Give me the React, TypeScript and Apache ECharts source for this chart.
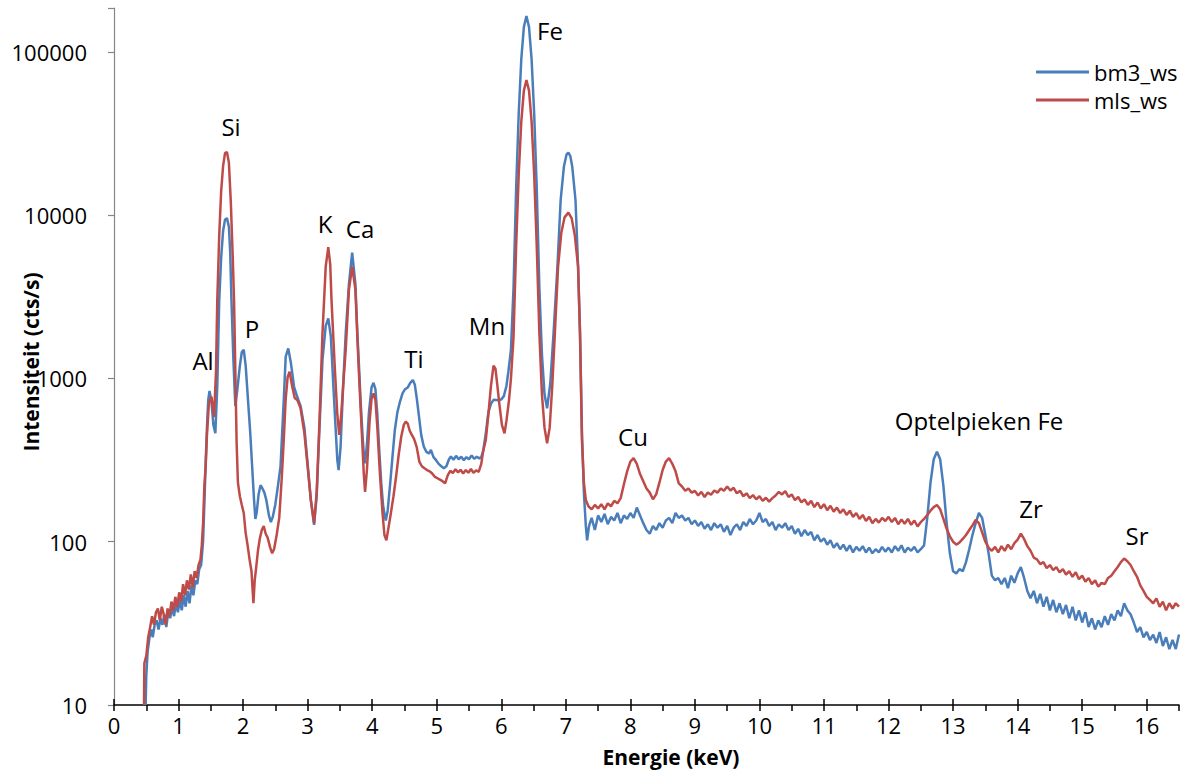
import React, { useEffect, useRef } from "react";
import * as echarts from "echarts";

const FONT = "'Open Sans', 'Noto Sans', sans-serif";

const seriesNames = ["bm3_ws", "mls_ws"];
const seriesColors = ["#4A7EBB", "#BE4B48"];

const xMajorTicks = [0, 1, 2, 3, 4, 5, 6, 7, 8, 9, 10, 11, 12, 13, 14, 15, 16];

// [energy keV, intensity cts/s]
const bm3Ws: number[][] = [
  [0.49,10],[0.50,15],[0.52,21],[0.55,26],[0.58,29],[0.60,26],[0.63,31],[0.66,33],[0.69,29],[0.72,34],[0.75,31],[0.78,36],[0.81,30],[0.84,37],[0.87,34],[0.90,40],[0.93,35],[0.96,42],[0.99,37],[1.02,44],[1.05,38],[1.08,47],[1.11,40],[1.14,50],[1.17,42],[1.20,54],[1.23,47],[1.26,58],[1.29,55],[1.32,68],[1.35,72],[1.38,100],[1.40,170],[1.42,300],[1.44,500],[1.46,740],[1.48,838],[1.51,720],[1.54,520],[1.57,463],[1.60,900],[1.63,3000],[1.66,5500],[1.69,8000],[1.72,9400],[1.75,9600],[1.78,8500],[1.80,6000],[1.82,3000],[1.85,1300],[1.88,680],[1.91,850],[1.95,1200],[1.98,1450],[2.01,1500],[2.04,1200],[2.08,700],[2.11,470],[2.14,290],[2.17,180],[2.19,138],[2.21,150],[2.24,195],[2.27,222],[2.30,212],[2.33,200],[2.36,180],[2.40,145],[2.43,132],[2.46,142],[2.50,170],[2.54,220],[2.58,289],[2.63,738],[2.66,1360],[2.70,1530],[2.74,1250],[2.79,890],[2.84,770],[2.89,680],[2.95,500],[3.00,300],[3.05,180],[3.10,127],[3.14,190],[3.18,464],[3.23,1300],[3.28,2100],[3.32,2336],[3.36,1800],[3.41,738],[3.46,316],[3.48,275],[3.51,380],[3.55,900],[3.59,1890],[3.64,3800],[3.69,5900],[3.74,3800],[3.77,1890],[3.80,1100],[3.82,738],[3.85,450],[3.87,347],[3.89,302],[3.92,400],[3.95,620],[3.99,880],[4.02,942],[4.05,860],[4.08,600],[4.11,360],[4.14,230],[4.17,165],[4.21,135],[4.24,155],[4.28,230],[4.31,316],[4.35,480],[4.39,620],[4.43,720],[4.47,810],[4.51,860],[4.55,880],[4.59,940],[4.63,978],[4.66,920],[4.69,760],[4.72,610],[4.76,450],[4.80,382],[4.84,355],[4.88,347],[4.91,365],[4.95,330],[4.99,316],[5.03,300],[5.07,290],[5.11,282],[5.15,290],[5.19,320],[5.22,333],[5.26,318],[5.30,336],[5.34,320],[5.38,332],[5.42,316],[5.46,330],[5.50,320],[5.54,338],[5.58,322],[5.62,332],[5.66,324],[5.69,330],[5.72,360],[5.76,460],[5.80,620],[5.84,700],[5.88,740],[5.92,738],[5.96,735],[6.00,745],[6.04,780],[6.08,900],[6.11,1100],[6.15,1500],[6.19,3600],[6.23,14400],[6.27,41700],[6.31,90000],[6.35,142000],[6.39,166000],[6.43,142000],[6.47,90000],[6.51,41700],[6.55,14400],[6.59,3600],[6.63,1400],[6.67,800],[6.71,657],[6.76,935],[6.81,1890],[6.87,4840],[6.92,12400],[6.97,19800],[7.01,23500],[7.04,24200],[7.07,23000],[7.10,19800],[7.15,12400],[7.19,4840],[7.22,1890],[7.25,461],[7.28,200],[7.31,125],[7.33,102],[7.36,125],
  [7.40,140],[7.45,118],[7.50,145],[7.55,132],[7.60,148],[7.65,128],[7.70,142],[7.75,135],[7.80,150],[7.85,130],[7.90,145],[7.95,138],[8.00,150],[8.05,140],[8.10,162],[8.15,145],[8.20,130],[8.25,118],[8.30,112],[8.35,125],[8.40,118],[8.45,130],[8.50,122],[8.55,135],[8.60,140],[8.65,130],[8.70,150],[8.75,140],[8.80,145],[8.85,135],[8.90,140],[8.95,128],[9.00,135],[9.05,125],[9.10,132],[9.15,120],[9.20,128],[9.25,118],[9.30,130],[9.35,122],[9.40,128],[9.45,115],[9.50,125],[9.55,110],[9.60,122],[9.65,128],[9.70,118],[9.75,132],[9.80,125],[9.85,138],[9.90,128],[9.95,135],[10.00,150],[10.05,132],[10.10,138],[10.15,125],[10.20,132],[10.25,118],[10.30,128],[10.35,122],[10.40,130],[10.45,118],[10.50,125],[10.55,112],[10.60,120],[10.65,108],[10.70,118],[10.75,110],[10.80,115],[10.85,102],[10.90,110],[10.95,100],[11.00,105],[11.05,96],[11.10,102],[11.15,92],[11.20,98],[11.25,90],[11.30,96],[11.35,88],[11.40,95],[11.45,86],[11.50,93],[11.55,88],[11.60,94],[11.65,86],[11.70,92],[11.75,85],[11.80,90],[11.85,86],[11.90,93],[11.95,87],[12.00,92],[12.05,86],[12.10,94],[12.15,88],[12.20,95],[12.25,86],[12.30,92],[12.35,88],[12.40,93],[12.45,86],[12.50,90],[12.55,95],[12.60,140],[12.65,230],[12.70,320],[12.75,356],[12.80,320],[12.85,220],[12.90,130],[12.95,85],[13.00,66],[13.05,64],[13.10,68],[13.15,66],[13.20,75],[13.25,90],[13.30,110],[13.35,130],[13.40,150],[13.45,140],[13.50,110],[13.55,85],[13.60,62],[13.65,58],[13.70,60],[13.75,55],[13.80,60],[13.85,52],[13.90,62],[13.95,56],[14.00,64],[14.05,70],[14.10,60],[14.15,50],[14.20,45],[14.25,50],[14.30,42],[14.35,48],[14.40,40],[14.45,46],[14.50,38],[14.55,44],[14.60,37],[14.65,42],[14.70,36],[14.75,41],[14.80,34],[14.85,40],[14.90,33],[14.95,38],[15.00,32],[15.05,37],[15.10,30],[15.15,34],[15.20,29],[15.25,33],[15.30,30],[15.35,35],[15.40,31],[15.45,36],[15.50,33],[15.55,38],[15.60,35],[15.65,42],[15.70,38],[15.75,36],[15.80,32],[15.85,28],[15.90,30],[15.95,26],[16.00,28],[16.05,25],[16.10,27],[16.15,24],[16.20,28],[16.25,23],[16.30,26],[16.35,22],[16.40,25],[16.45,22],[16.50,27]
];

const mlsWs: number[][] = [
  [0.465,10],[0.47,18],[0.50,20],[0.53,26],[0.56,30],[0.59,35],[0.62,31],[0.65,37],[0.68,39],[0.71,33],[0.74,40],[0.77,36],[0.80,31],[0.83,39],[0.86,35],[0.89,43],[0.92,38],[0.95,46],[0.98,40],[1.01,49],[1.04,43],[1.07,55],[1.10,47],[1.13,58],[1.16,51],[1.19,63],[1.22,53],[1.25,66],[1.28,60],[1.31,72],[1.34,78],[1.36,95],[1.38,130],[1.40,220],[1.42,290],[1.44,450],[1.47,700],[1.51,775],[1.55,581],[1.58,1100],[1.60,3000],[1.63,7500],[1.66,14000],[1.69,20000],[1.72,24000],[1.75,24400],[1.78,21000],[1.81,12000],[1.84,5500],[1.86,3000],[1.88,1100],[1.90,400],[1.92,230],[1.95,190],[1.98,168],[2.01,150],[2.04,113],[2.07,95],[2.10,78],[2.13,66],[2.16,42],[2.18,58],[2.20,68],[2.23,88],[2.26,105],[2.29,118],[2.32,125],[2.35,112],[2.38,106],[2.42,92],[2.45,85],[2.48,90],[2.52,110],[2.56,140],[2.60,250],[2.63,420],[2.66,750],[2.69,1020],[2.72,1100],[2.76,900],[2.80,760],[2.84,738],[2.89,660],[2.95,461],[3.00,289],[3.05,180],[3.10,130],[3.14,200],[3.18,500],[3.23,1890],[3.28,4840],[3.32,6370],[3.35,5000],[3.37,3020],[3.42,1180],[3.46,600],[3.49,451],[3.52,600],[3.55,900],[3.59,1500],[3.64,3500],[3.69,4840],[3.74,3500],[3.79,1180],[3.84,461],[3.87,260],[3.89,202],[3.92,280],[3.96,550],[3.99,750],[4.02,810],[4.05,740],[4.08,500],[4.12,260],[4.16,150],[4.19,110],[4.22,102],[4.25,120],[4.29,150],[4.33,190],[4.37,250],[4.41,340],[4.45,440],[4.49,520],[4.52,545],[4.55,530],[4.58,480],[4.61,455],[4.65,425],[4.69,380],[4.73,310],[4.77,290],[4.81,282],[4.85,275],[4.89,270],[4.93,262],[4.97,250],[5.01,245],[5.05,240],[5.09,235],[5.13,228],[5.17,255],[5.21,272],[5.25,264],[5.29,278],[5.33,266],[5.37,276],[5.41,262],[5.45,275],[5.49,265],[5.53,279],[5.57,264],[5.61,274],[5.65,268],[5.69,300],[5.72,360],[5.76,420],[5.80,600],[5.84,900],[5.88,1200],[5.91,1150],[5.94,900],[5.97,700],[6.01,520],[6.05,461],[6.08,550],[6.12,738],[6.15,1000],[6.19,1800],[6.23,6400],[6.27,17700],[6.31,37300],[6.35,58000],[6.39,67300],[6.43,58000],[6.47,37300],[6.51,17700],[6.55,6400],[6.59,1900],[6.63,800],[6.67,500],[6.71,401],[6.75,500],[6.79,900],[6.83,1890],[6.88,4840],[6.93,7800],[6.98,9700],[7.04,10380],[7.09,9600],[7.14,7500],[7.19,4840],[7.22,1890],[7.25,420],[7.28,230],[7.31,180],[7.35,165],
  [7.40,158],[7.45,168],[7.50,160],[7.55,170],[7.60,158],[7.65,172],[7.70,165],[7.75,178],[7.80,172],[7.85,185],[7.90,225],[7.95,270],[8.00,310],[8.05,325],[8.10,300],[8.15,260],[8.20,235],[8.25,212],[8.30,200],[8.35,182],[8.40,195],[8.45,230],[8.50,275],[8.55,310],[8.60,325],[8.65,300],[8.70,270],[8.75,228],[8.80,218],[8.85,205],[8.90,212],[8.95,200],[9.00,205],[9.05,192],[9.10,202],[9.15,188],[9.20,200],[9.25,194],[9.30,206],[9.35,200],[9.40,212],[9.45,205],[9.50,218],[9.55,206],[9.60,214],[9.65,198],[9.70,205],[9.75,190],[9.80,198],[9.85,185],[9.90,193],[9.95,182],[10.00,190],[10.05,178],[10.10,186],[10.15,176],[10.20,185],[10.25,192],[10.30,202],[10.35,195],[10.40,204],[10.45,188],[10.50,195],[10.55,180],[10.60,188],[10.65,174],[10.70,182],[10.75,168],[10.80,178],[10.85,163],[10.90,174],[10.95,160],[11.00,170],[11.05,156],[11.10,166],[11.15,153],[11.20,162],[11.25,150],[11.30,158],[11.35,146],[11.40,155],[11.45,142],[11.50,150],[11.55,138],[11.60,146],[11.65,134],[11.70,142],[11.75,130],[11.80,138],[11.85,131],[11.90,140],[11.95,134],[12.00,142],[12.05,132],[12.10,140],[12.15,128],[12.20,137],[12.25,129],[12.30,138],[12.35,127],[12.40,135],[12.45,124],[12.50,132],[12.55,138],[12.60,146],[12.65,155],[12.70,163],[12.75,168],[12.80,158],[12.85,138],[12.90,120],[12.95,108],[13.00,100],[13.05,96],[13.10,99],[13.15,104],[13.20,110],[13.25,118],[13.30,126],[13.35,136],[13.40,130],[13.45,114],[13.50,100],[13.55,92],[13.60,88],[13.65,93],[13.70,86],[13.75,94],[13.80,88],[13.85,96],[13.90,90],[13.95,98],[14.00,103],[14.05,112],[14.10,104],[14.15,94],[14.20,88],[14.25,80],[14.30,78],[14.35,73],[14.40,75],[14.45,69],[14.50,72],[14.55,67],[14.60,70],[14.65,65],[14.70,68],[14.75,63],[14.80,66],[14.85,61],[14.90,65],[14.95,59],[15.00,62],[15.05,57],[15.10,60],[15.15,55],[15.20,58],[15.25,53],[15.30,56],[15.35,55],[15.40,60],[15.45,62],[15.50,66],[15.55,70],[15.60,75],[15.65,79],[15.70,76],[15.75,72],[15.80,66],[15.85,61],[15.90,54],[15.95,50],[16.00,46],[16.05,44],[16.10,42],[16.15,45],[16.20,40],[16.25,43],[16.30,38],[16.35,42],[16.40,39],[16.45,42],[16.50,40]
];

const peakLabels = ["Al", "Si", "P", "K", "Ca", "Ti", "Mn", "Fe", "Cu", "Optelpieken Fe", "Zr", "Sr"];
const peakLabelPos = [
  [203, 360], [231, 126], [252, 328], [325, 223], [360, 228], [414, 358],
  [487, 325], [550, 30], [633, 436], [979, 420], [1031, 508], [1137, 535]
];

export default function App() {
  const ref = useRef<HTMLDivElement>(null);
  useEffect(() => {
    if (!ref.current) return;
    const chart = echarts.init(ref.current, null, { renderer: "svg" });
    const graphics: any[] = peakLabels.map((t, i) => ({
      type: "text",
      x: peakLabelPos[i][0],
      y: peakLabelPos[i][1],
      style: { text: t, fontFamily: FONT, fontSize: 24, fill: "#000", align: "center", verticalAlign: "middle" },
      z: 10,
    }));
    graphics.push({
      type: "text", x: 671, y: 757,
      style: { text: "Energie (keV)", fontFamily: FONT, fontSize: 21, fontWeight: "bold", fill: "#000", align: "center", verticalAlign: "middle" },
    });
    graphics.push({
      type: "text", x: 31, y: 362, rotation: Math.PI / 2,
      style: { text: "Intensiteit (cts/s)", fontFamily: FONT, fontSize: 21, fontWeight: "bold", fill: "#000", align: "center", verticalAlign: "middle" },
    });
    chart.setOption({
      animation: false,
      backgroundColor: "#fff",
      grid: { left: 114, right: 21, top: 8, bottom: 66, containLabel: false },
      legend: {
        orient: "vertical", left: 1036, top: 61, padding: 0,
        icon: "rect", itemWidth: 53, itemHeight: 3, itemGap: 6,
        textStyle: { fontFamily: FONT, fontSize: 22, color: "#000", lineHeight: 22 },
        data: seriesNames,
      },
      xAxis: [
        {
          type: "value", min: 0, max: 16.5, interval: 0.5,
          axisLine: { onZero: false, lineStyle: { color: "#000", width: 1.5 } },
          axisTick: { show: true, length: 6, lineStyle: { color: "#000", width: 1.5 } },
          axisLabel: {
            interval: 0, margin: 9, fontFamily: FONT, fontSize: 22, color: "#000",
            formatter: (v: number) => (Math.abs(v - Math.round(v)) < 1e-6 ? String(Math.round(v)) : ""),
          },
          splitLine: { show: false },
        },
        {
          type: "value", min: 0, max: 16.5, interval: 1, position: "bottom",
          axisLine: { show: false, onZero: false },
          axisTick: { show: true, inside: true, length: 6, customValues: xMajorTicks, lineStyle: { color: "#000", width: 1.5 } },
          axisLabel: { show: false },
          splitLine: { show: false },
        },
      ],
      yAxis: {
        type: "log", logBase: 10, min: 10, max: 186000,
        axisLine: { show: true, lineStyle: { color: "#868686", width: 1.2 } },
        axisTick: { show: true, length: 6, lineStyle: { color: "#868686", width: 1.2 } },
        axisLabel: {
          margin: 27, fontFamily: FONT, fontSize: 22, color: "#000",
          formatter: (v: number) => {
            const l = Math.log10(v);
            return Math.abs(l - Math.round(l)) < 1e-6 ? String(Math.round(v)) : "";
          },
        },
        splitLine: { show: false },
      },
      graphic: graphics,
      series: [
        {
          name: seriesNames[0], type: "line", data: bm3Ws, xAxisIndex: 0,
          showSymbol: false, symbol: "none", sampling: undefined,
          color: seriesColors[0], lineStyle: { color: seriesColors[0], width: 2.5 },
          z: 2,
        },
        {
          name: seriesNames[1], type: "line", data: mlsWs, xAxisIndex: 0,
          showSymbol: false, symbol: "none",
          color: seriesColors[1], lineStyle: { color: seriesColors[1], width: 2.5 },
          z: 3,
        },
      ],
    });
    return () => chart.dispose();
  }, []);
  return <div ref={ref} style={{ position: "absolute", left: 0, top: 0, width: 1200, height: 771, background: "#fff" }} />;
}
